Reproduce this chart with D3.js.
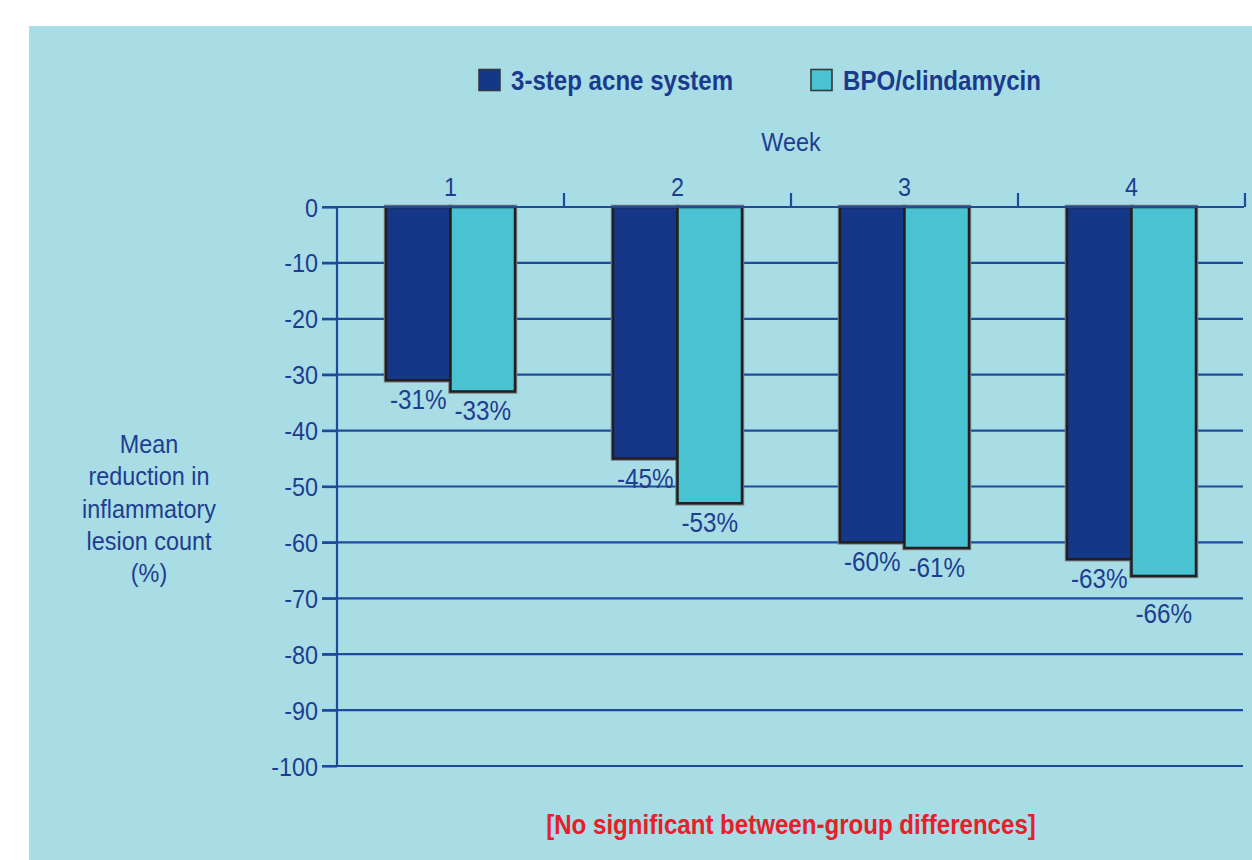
<!DOCTYPE html>
<html>
<head>
<meta charset="utf-8">
<script src="https://cdn.jsdelivr.net/npm/d3@7"></script>
<style>
  html, body { margin: 0; padding: 0; background: #ffffff; }
  svg { display: block; }
  text { font-family: "Liberation Sans", Arial, sans-serif; }
</style>
</head>
<body>
<svg id="chart" width="1252" height="860"></svg>
<script>
// ---- data ----
const weeks = ["1", "2", "3", "4"];
const seriesNames = ["3-step acne system", "BPO/clindamycin"];
const threeStep = [-31, -45, -60, -63];
const bpoClinda = [-33, -53, -61, -66];
const yTicks = [0, -10, -20, -30, -40, -50, -60, -70, -80, -90, -100];
const yTitleLines = ["Mean", "reduction in", "inflammatory", "lesion count", "(%)"];
const xTitle = "Week";
const footnote = "[No significant between-group differences]";

// ---- styles ----
const colors = ["#153787", "#49c3d1"];
const bg = "#a8dde6";
const ink = "#1f3d8f";
const lineCol = "#1f4a9c";
const labelNudge = [0, 0, 0, 0, 0, 0, 0, 18]; // extra drop for crowded labels
const SX = 0.9;   // horizontal condensing of regular text
const SXB = 0.86; // horizontal condensing of bold text

const svg = d3.select("#chart");
svg.append("rect").attr("x", 29).attr("y", 26).attr("width", 1252 - 29).attr("height", 860 - 26).attr("fill", bg);

function ctext(parent, x, y, str, size, anchor, fill, bold) {
  return parent.append("text")
    .attr("transform", `translate(${x},${y}) scale(${bold ? SXB : SX},1)`)
    .attr("text-anchor", anchor).attr("fill", fill).attr("font-size", size)
    .attr("font-weight", bold ? "bold" : "normal").text(str);
}

const x0 = d3.scaleBand().domain(weeks).range([337, 1245]).paddingInner(0).paddingOuter(0);
const x1 = d3.scaleBand().domain(seriesNames).range([0, x0.bandwidth()]).paddingInner(0).paddingOuter(0.76);
const y = d3.scaleLinear().domain([-100, 0]).range([766, 207]);

// gridlines
svg.append("g").selectAll("line").data(yTicks.filter(d => d !== 0)).enter().append("line")
  .attr("x1", 322).attr("x2", 1243)
  .attr("y1", d => y(d)).attr("y2", d => y(d))
  .attr("stroke", lineCol).attr("stroke-width", 2.2);

// y axis (lines from the axis generator, labels condensed)
const ya = svg.append("g").attr("transform", "translate(337,0)")
  .call(d3.axisLeft(y).tickValues(yTicks).tickSize(15).tickFormat(""));
ya.select(".domain").attr("stroke", lineCol).attr("stroke-width", 2.2).attr("d", `M0,${y(0)}V${y(-100)}`);
ya.selectAll(".tick line").attr("stroke", lineCol).attr("stroke-width", 2.2);
const yl = svg.append("g");
yTicks.forEach(t => ctext(yl, 318, y(t) + 9.5, String(t), 26, "end", ink, false));

// top axis (weeks)
const xa = svg.append("g").attr("transform", `translate(0,${y(0)})`)
  .call(d3.axisTop(x0).tickSize(0).tickFormat(""));
xa.select(".domain").remove();
weeks.forEach(w => ctext(svg, x0(w) + x0.bandwidth() / 2, 196, w, 26, "middle", ink, false));
svg.selectAll("line.sep").data(weeks).enter().append("line")
  .attr("x1", d => x0(d) + x0.bandwidth()).attr("x2", d => x0(d) + x0.bandwidth())
  .attr("y1", y(0)).attr("y2", y(0) - 14)
  .attr("stroke", lineCol).attr("stroke-width", 2.2);

// bars
const rows = [];
weeks.forEach((w, i) => {
  rows.push({ week: w, s: seriesNames[0], v: threeStep[i], c: 0 });
  rows.push({ week: w, s: seriesNames[1], v: bpoClinda[i], c: 1 });
});
const byOrder = [];
rows.forEach(r => { if (r.c === 0) byOrder.push(r); });
rows.forEach(r => { if (r.c === 1) byOrder.push(r); });
byOrder.forEach((r, i) => r.idx = i);

const bars = svg.append("g");
bars.selectAll("rect.halo").data(rows).enter().append("rect")
  .attr("x", d => x0(d.week) + x1(d.s))
  .attr("y", y(0))
  .attr("width", x1.bandwidth())
  .attr("height", d => y(d.v) - y(0))
  .attr("fill", "none").attr("stroke", "#7a7f85").attr("stroke-width", 4.5);
bars.selectAll("rect.bar").data(rows).enter().append("rect")
  .attr("x", d => x0(d.week) + x1(d.s))
  .attr("y", y(0))
  .attr("width", x1.bandwidth())
  .attr("height", d => y(d.v) - y(0))
  .attr("fill", d => colors[d.c]).attr("stroke", "#231f20").attr("stroke-width", 2.5);
svg.append("line").attr("x1", 322).attr("x2", 1244).attr("y1", y(0)).attr("y2", y(0))
  .attr("stroke", lineCol).attr("stroke-width", 2.2);

// value labels
const vl = svg.append("g");
rows.forEach(d => {
  ctext(vl, x0(d.week) + x1(d.s) + x1.bandwidth() / 2, y(d.v) + 29 + labelNudge[d.idx],
        d.v + "%", 27, "middle", ink, false);
});

// week title
ctext(svg, (x0.range()[0] + x0.range()[1]) / 2, 151, xTitle, 26, "middle", ink, false);

// y title
yTitleLines.forEach((l, i) => ctext(svg, 149, 453 + i * 32.3, l, 26, "middle", ink, false));

// legend
const legendX = [479, 811];
seriesNames.forEach((n, i) => {
  svg.append("rect").attr("x", legendX[i]).attr("y", 69.5).attr("width", 21).attr("height", 21)
    .attr("fill", colors[i]).attr("stroke", "#333a40").attr("stroke-width", 1.6);
  ctext(svg, legendX[i] + 32, 90, n, 28, "start", "#1b3a8c", true);
});

// footnote
ctext(svg, 791, 834, footnote, 28, "middle", "#e5202b", true);
</script>
</body>
</html>
